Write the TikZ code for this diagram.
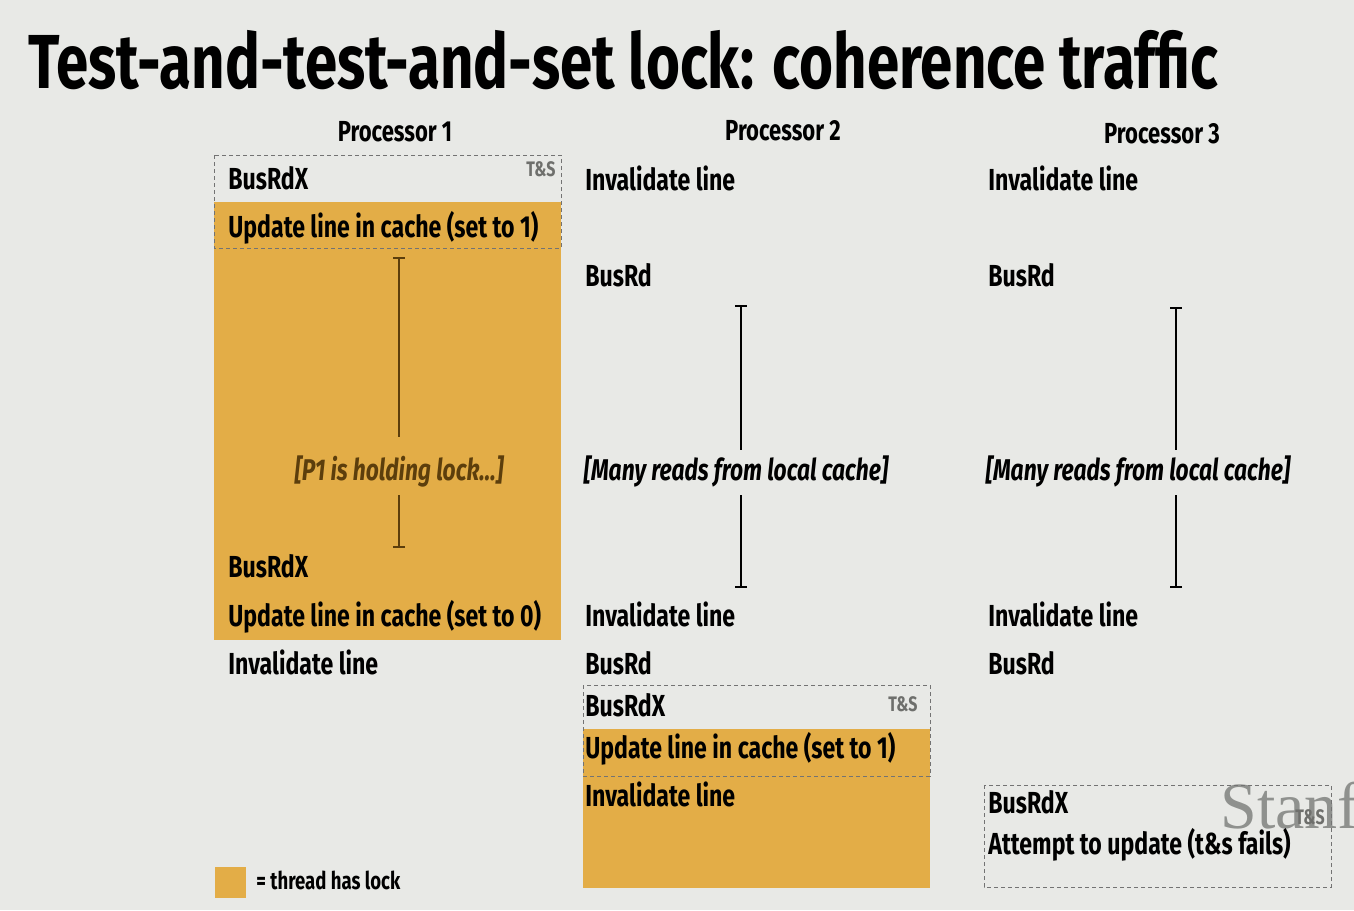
\documentclass[tikz,border=0pt]{standalone}
\usepackage{fontspec}
\setmainfont{Fira Sans}[FakeStretch=0.76]
\newfontfamily\markfont{Liberation Serif}
\usetikzlibrary{arrows.meta}

\definecolor{slidebg}{HTML}{E8E9E6}
\definecolor{lockfill}{HTML}{E3AD47}
\definecolor{holdtext}{HTML}{5C3E0C}
\definecolor{tsgray}{HTML}{6E6F6C}
\definecolor{markgray}{HTML}{8F918E}

\tikzset{
    msg/.style={
        anchor=base west,
        inner sep=0pt,
        font=\bfseries\fontsize{15.2}{18}\selectfont
    },
    head/.style={
        anchor=base,
        inner sep=0pt,
        font=\bfseries\fontsize{14.5}{17}\selectfont
    },
    note/.style={
        anchor=base,
        inner sep=0pt,
        font=\bfseries\itshape\fontsize{15}{18}\selectfont
    },
    tsmark/.style={
        anchor=base east,
        inner sep=0pt,
        text=tsgray,
        font=\bfseries\fontsize{10.5}{12}\selectfont
    },
    tsbox/.style={
        draw=black!55,
        dash pattern=on 2pt off 1.5pt,
        line width=0.5pt
    },
    span/.style={
        line width=1pt
    }
}

\begin{document}
\begin{tikzpicture}[x=0.5pt,y=-0.5pt]

    \fill[slidebg] (0,0) rectangle (1354,910);
    \useasboundingbox (0,0) rectangle (1354,910);

    % title
    \node[anchor=base west, inner sep=0pt, font=\bfseries\fontsize{38.3}{44}\selectfont]
        (title) at (28,88) {Test-and-test-and-set lock: coherence traffic};

    % column heads
    \node[head] (head1) at (395,141) {Processor 1};
    \node[head] (head2) at (783,140) {Processor 2};
    \node[head] (head3) at (1162,143) {Processor 3};

    % time spans where a thread has the lock
    \fill[lockfill] (214,202) rectangle (561,640);
    \fill[lockfill] (583,729) rectangle (930,888);

    % T&S boxes
    \draw[tsbox] (214,155) rectangle (561,248);
    \draw[tsbox] (583,685) rectangle (930,776);

    % watermark
    \begin{scope}
        \clip (0,0) rectangle (1354,910);
        \node[anchor=base west, inner sep=0pt, text=markgray, font=\markfont\fontsize{33}{36}\selectfont]
            (mark) at (1220,828) {Stanford};
    \end{scope}
    \draw[tsbox] (984,785) rectangle (1331,887);

    % Processor 1
    \node[msg] (p1busrdx) at (228,189) {BusRdX};
    \node[tsmark] (p1ts) at (556,176) {T\&S};
    \node[msg] (p1set) at (228,237) {Update line in cache (set to 1)};
    \node[note, text=holdtext] (p1hold) at (399,480) {[P1 is holding lock...]};
    \node[msg] (p1busrdx2) at (228,577) {BusRdX};
    \node[msg] (p1clear) at (228,626) {Update line in cache (set to 0)};
    \node[msg] (p1inv) at (228,674) {Invalidate line};

    \coordinate (p1a) at (399,257);
    \coordinate (p1b) at (399,437);
    \coordinate (p1c) at (399,495);
    \coordinate (p1d) at (399,548);
    \draw[span, holdtext, {Bar[width=6pt]}-] (p1a) -- (p1b);
    \draw[span, holdtext, -{Bar[width=6pt]}] (p1c) -- (p1d);

    % Processor 2
    \node[msg] (p2inv) at (585,190) {Invalidate line};
    \node[msg] (p2busrd) at (585,286) {BusRd};
    \node[note] (p2reads) at (736,480) {[Many reads from local cache]};
    \node[msg] (p2inv2) at (585,626) {Invalidate line};
    \node[msg] (p2busrd2) at (585,674) {BusRd};
    \node[msg] (p2busrdx) at (585,716) {BusRdX};
    \node[tsmark] (p2ts) at (918,711) {T\&S};
    \node[msg] (p2set) at (585,758) {Update line in cache (set to 1)};
    \node[msg] (p2inv3) at (585,806) {Invalidate line};

    \coordinate (p2a) at (741,305);
    \coordinate (p2b) at (741,450);
    \coordinate (p2c) at (741,495);
    \coordinate (p2d) at (741,588);
    \draw[span, {Bar[width=6pt]}-] (p2a) -- (p2b);
    \draw[span, -{Bar[width=6pt]}] (p2c) -- (p2d);

    % Processor 3
    \node[msg] (p3inv) at (988,190) {Invalidate line};
    \node[msg] (p3busrd) at (988,286) {BusRd};
    \node[note] (p3reads) at (1138,480) {[Many reads from local cache]};
    \node[msg] (p3inv2) at (988,626) {Invalidate line};
    \node[msg] (p3busrd2) at (988,674) {BusRd};
    \node[msg] (p3busrdx) at (988,813) {BusRdX};
    \node[tsmark] (p3ts) at (1325,824) {T\&S};
    \node[msg] (p3fail) at (988,854) {Attempt to update (t\&s fails)};

    \coordinate (p3a) at (1176,307);
    \coordinate (p3b) at (1176,450);
    \coordinate (p3c) at (1176,495);
    \coordinate (p3d) at (1176,588);
    \draw[span, {Bar[width=6pt]}-] (p3a) -- (p3b);
    \draw[span, -{Bar[width=6pt]}] (p3c) -- (p3d);

    % legend
    \fill[lockfill] (215,867) rectangle (246,898);
    \node[anchor=base west, inner sep=0pt, font=\bfseries\fontsize{12.2}{14}\selectfont]
        (key) at (256,889) {= thread has lock};

\end{tikzpicture}
\end{document}
